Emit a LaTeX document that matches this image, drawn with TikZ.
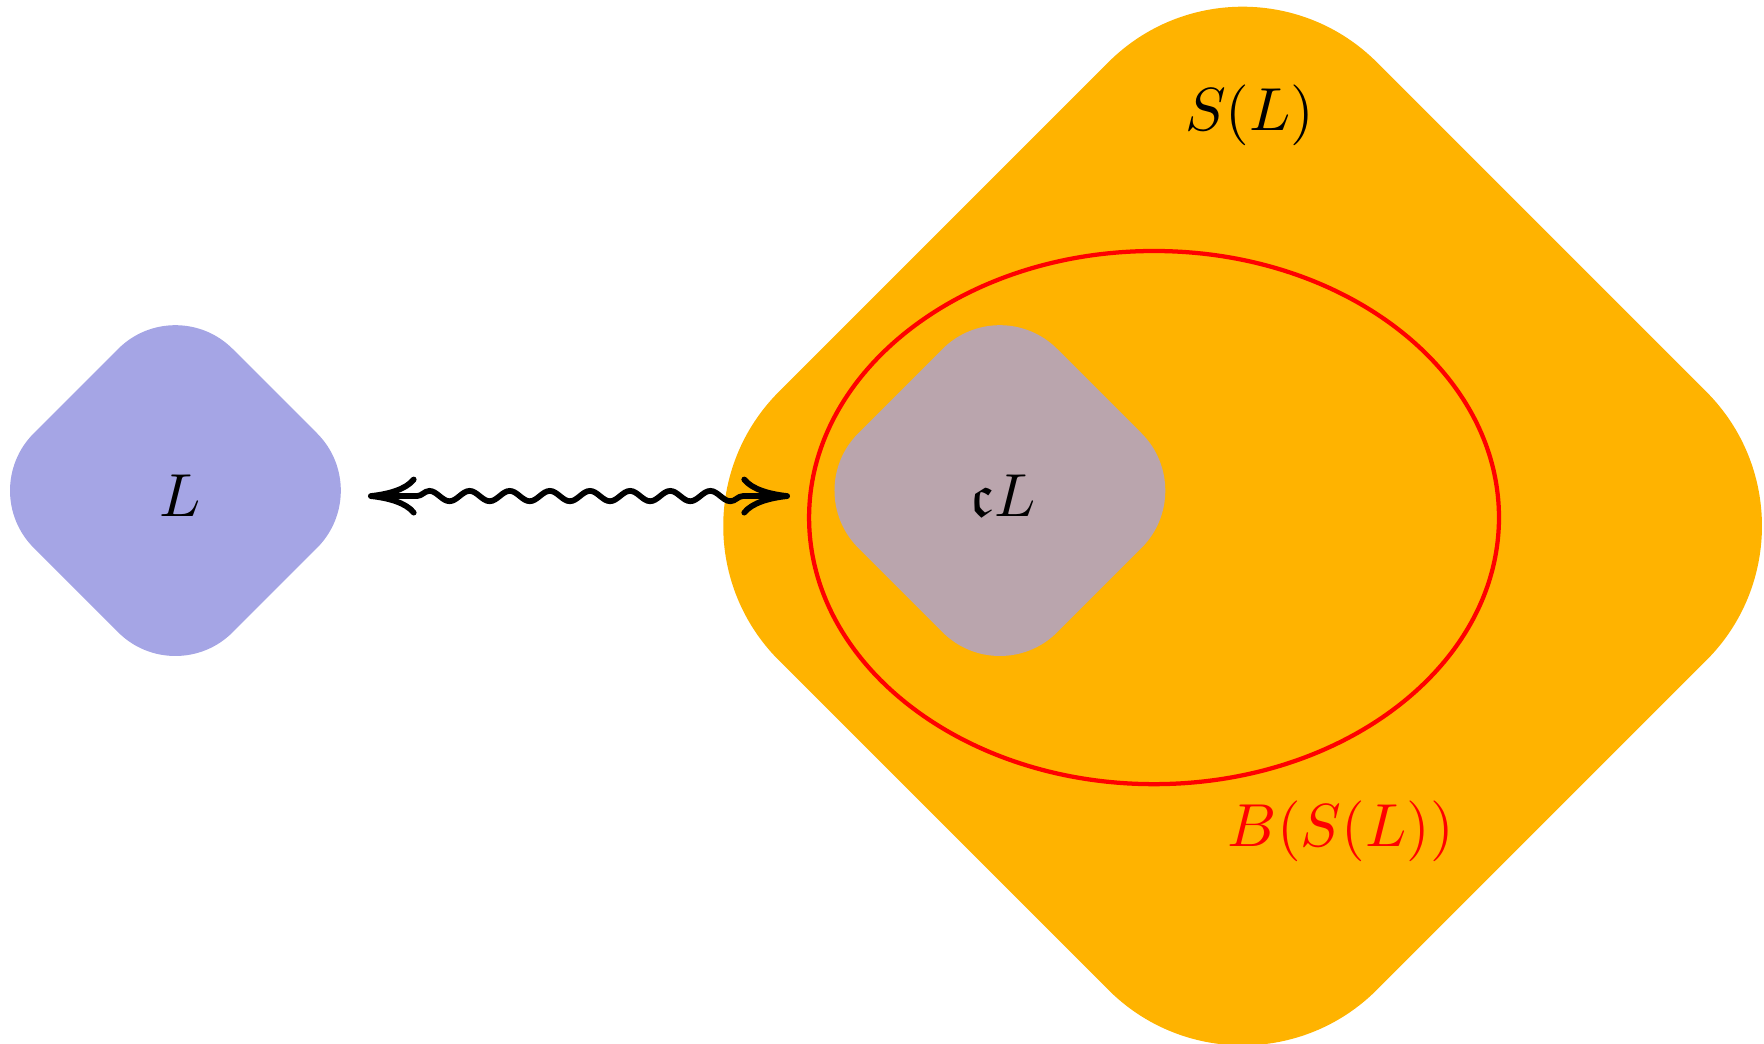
\documentclass[tikz,border=0pt]{standalone}
\usepackage{amsmath,amssymb}
\usepackage{tikz}
\usetikzlibrary{positioning,arrows.meta,shapes.geometric,decorations.pathmorphing}
\usepackage{xcolor}
\definecolor{lavender}{HTML}{A5A5E5}
\definecolor{amber}{HTML}{FFB300}
\definecolor{mauve}{HTML}{BAA5AD}

\begin{document}
\begin{tikzpicture}[
    smallDiamond/.style={diamond, rounded corners=0.468cm, minimum width=2.30cm, minimum height=2.30cm, inner sep=0pt, outer sep=0pt},
    bigDiamond/.style={diamond, rounded corners=1.098cm, minimum width=6.914cm, minimum height=6.914cm, inner sep=0pt, outer sep=0pt, fill=amber},
    ballNode/.style={ellipse, draw=red, line width=0.7pt, minimum width=3.988cm, minimum height=3.082cm, inner sep=0pt},
    mathLabel/.style={inner sep=1pt},
    squigArrow/.style={{To[length=8pt,width=6.4pt,round]}-{To[length=8pt,width=6.4pt,round]}, line width=0.95pt, line cap=round,
        decorate, decoration={snake, amplitude=0.85pt, segment length=6.6pt, pre length=7pt, post length=7pt}}
]
    \useasboundingbox (0,0) rectangle (10.197,6.035);

    \node[bigDiamond] (sBox) at (7.183,2.994) {};
    \node[smallDiamond, fill=lavender] (lBox) at (1.014,3.199) {};
    \node[smallDiamond, fill=mauve] (cBox) at (5.780,3.199) {};
    \node[ballNode] (ball) at (6.671,3.043) {};

    \node[mathLabel] (lText) at (1.040,3.168) {$L$};
    \node[mathLabel] (cText) at (5.800,3.168) {$\mathfrak{c}L$};
    \node[mathLabel] (sText) at (7.225,5.370) {$S(L)$};
    \node[mathLabel, text=red] (bText) at (7.751,1.231) {$B(S(L))$};

    \draw[squigArrow, shorten <=-1.05pt, shorten >=1.8pt] ([yshift=-0.9pt]lBox.east) -- ([yshift=-0.9pt]cBox.west);
\end{tikzpicture}
\end{document}
